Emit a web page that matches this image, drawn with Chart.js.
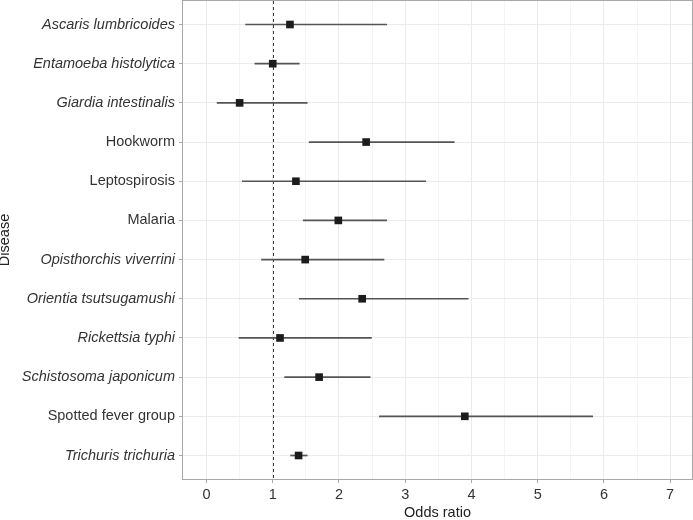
<!DOCTYPE html>
<html>
<head>
<meta charset="utf-8">
<script src="https://cdn.jsdelivr.net/npm/chart.js@4"></script>
<style>
  html, body { margin: 0; padding: 0; background: #fff; }
  #wrap { width: 693px; height: 520px; }
</style>
</head>
<body>
<div id="wrap"><canvas id="chart" width="693" height="520"></canvas></div>
<script>
// diseases, top to bottom
const diseases = [
  'Ascaris lumbricoides', 'Entamoeba histolytica', 'Giardia intestinalis', 'Hookworm',
  'Leptospirosis', 'Malaria', 'Opisthorchis viverrini', 'Orientia tsutsugamushi',
  'Rickettsia typhi', 'Schistosoma japonicum', 'Spotted fever group', 'Trichuris trichuria'
];
// which labels are species names (set in italics)
const italicNames = [true, true, true, false, false, false, true, true, true, true, false, true];

const oddsRatio = [1.26, 1.00, 0.50, 2.41, 1.35, 1.99, 1.49, 2.35, 1.11, 1.70, 3.90, 1.39];
const ciLow     = [0.59, 0.73, 0.16, 1.55, 0.54, 1.46, 0.83, 1.40, 0.49, 1.18, 2.61, 1.27];
const ciHigh    = [2.72, 1.40, 1.52, 3.74, 3.31, 2.72, 2.68, 3.95, 2.49, 2.47, 5.83, 1.52];

const xTicks = [0, 1, 2, 3, 4, 5, 6, 7];
const refLine = 1;

const FONT = 'Liberation Sans, Arial, Helvetica, sans-serif';

// dashed reference line + panel border
const panelPlugin = {
  id: 'panel',
  beforeDatasetsDraw(chart) {
    const { ctx, chartArea: a, scales } = chart;
    const px = Math.round(scales.x.getPixelForValue(refLine)) + 0.5;
    ctx.save();
    ctx.strokeStyle = '#3a3a3a';
    ctx.lineWidth = 1;
    ctx.setLineDash([3, 3]);
    ctx.beginPath();
    ctx.moveTo(px, a.top);
    ctx.lineTo(px, a.bottom);
    ctx.stroke();
    ctx.restore();
  },
  afterDraw(chart) {
    const { ctx, chartArea: a } = chart;
    ctx.save();
    ctx.strokeStyle = '#a8a8a8';
    ctx.lineWidth = 1;
    ctx.strokeRect(Math.round(a.left) - 0.5, Math.round(a.top) - 0.5,
      Math.round(a.right - a.left) + 1, Math.round(a.bottom - a.top) + 1);
    ctx.restore();
  }
};

new Chart(document.getElementById('chart'), {
  type: 'bar',
  data: {
    datasets: [
      {
        type: 'line',
        label: 'Odds ratio',
        indexAxis: 'y',
        data: oddsRatio.map((v, i) => ({ x: v, y: i })),
        showLine: false,
        pointStyle: 'rect',
        pointRadius: 5.4,
        pointHoverRadius: 5.4,
        pointBackgroundColor: '#1c1c1c',
        pointBorderWidth: 0,
        order: 0
      },
      {
        label: '95% CI',
        indexAxis: 'y',
        data: ciLow.map((v, i) => ({ x: [v, ciHigh[i]], y: i })),
        backgroundColor: '#555555',
        borderWidth: 0,
        barThickness: 1,
        order: 1
      }
    ]
  },
  options: {
    indexAxis: 'y',
    responsive: false,
    animation: false,
    devicePixelRatio: 1,
    layout: { autoPadding: false, padding: { top: 1, right: 1, left: 0, bottom: 0 } },
    plugins: { legend: { display: false }, tooltip: { enabled: false } },
    scales: {
      x: {
        type: 'linear',
        min: -0.355,
        max: 7.33,
        offset: false,
        border: { display: false },
        grid: {
          offset: false,
          color: c => Number.isInteger(c.tick.value) ? '#ebebeb' : '#f4f4f4',
          tickColor: c => Number.isInteger(c.tick.value) ? '#a8a8a8' : 'rgba(0,0,0,0)',
          tickLength: 4,
          lineWidth: 1
        },
        ticks: {
          stepSize: 0.5,
          includeBounds: false,
          maxRotation: 0,
          autoSkip: false,
          padding: 3,
          color: '#333333',
          font: { family: FONT, size: 14.5 },
          callback: v => xTicks.includes(v) ? String(v) : ''
        },
        title: {
          display: true,
          text: 'Odds ratio',
          color: '#222222',
          font: { family: FONT, size: 14.5, lineHeight: 1 },
          padding: { top: 0, bottom: 0 }
        },
        afterFit: s => { s.height = 41; s.paddingLeft = 0; s.paddingRight = 0; }
      },
      y: {
        type: 'linear',
        min: -0.6,
        max: 11.6,
        reverse: true,
        offset: false,
        border: { display: false },
        grid: {
          offset: false,
          color: '#ebebeb',
          tickColor: '#a8a8a8',
          tickLength: 4,
          lineWidth: 1
        },
        ticks: {
          stepSize: 1,
          includeBounds: false,
          autoSkip: false,
          padding: 4,
          color: '#333333',
          font: c => ({
            family: FONT,
            size: 14.5,
            style: italicNames[c.tick ? c.tick.value : c.index] ? 'italic' : 'normal'
          }),
          callback: v => diseases[v] !== undefined ? diseases[v] : ''
        },
        title: {
          display: true,
          text: 'Disease',
          color: '#222222',
          font: { family: FONT, size: 14.5, lineHeight: 1 },
          padding: { top: -2, bottom: 0 }
        },
        afterFit: s => { s.width = 183; s.paddingTop = 0; s.paddingBottom = 0; }
      }
    }
  },
  plugins: [panelPlugin]
});
</script>
</body>
</html>
